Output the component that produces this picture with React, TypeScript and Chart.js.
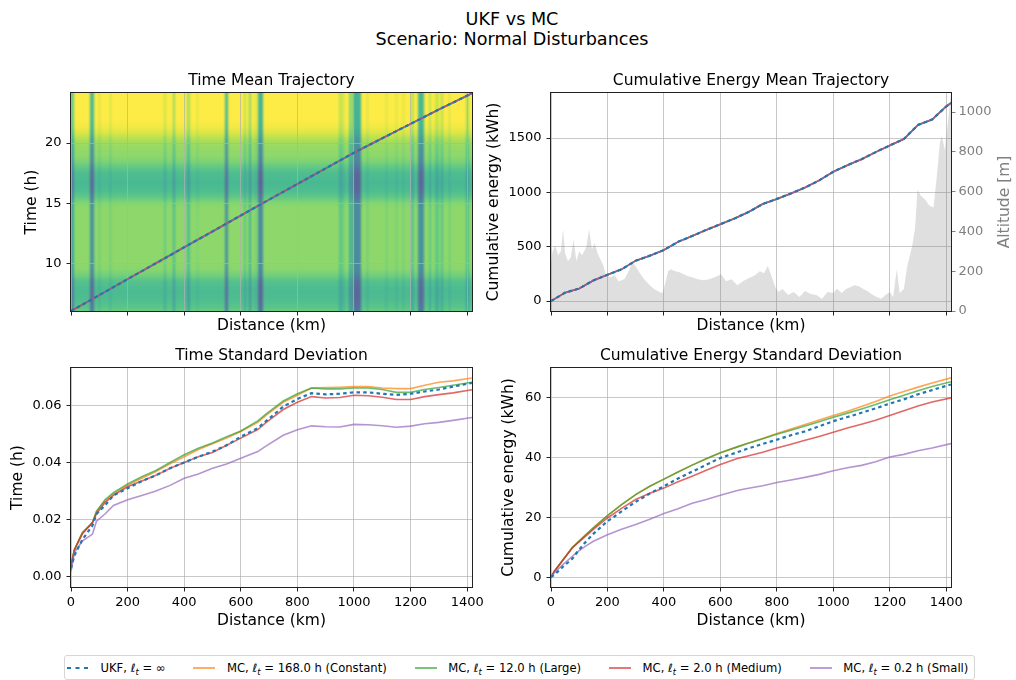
import React, { useEffect, useRef } from 'react';
import { Chart, registerables } from 'chart.js';

Chart.register(...registerables);

const FONT = "'DejaVu Sans', 'Liberation Sans', sans-serif";
Chart.defaults.font.family = FONT;

// ------------------------------------------------------------------ data
const X_MAX_KM = 1417;
const distanceTicks = [0, 200, 400, 600, 800, 1000, 1200, 1400];
const timeTicks = [10, 15, 20];
const energyTicks = [0, 500, 1000, 1500];
const altitudeTicks = [0, 200, 400, 600, 800, 1000];
const timeStdTicks = [0, 0.02, 0.04, 0.06];
const energyStdTicks = [0, 20, 40, 60];

// mean trajectories (top row)
const meanKm = [0, 100, 200, 300, 400, 500, 600, 700, 800, 900, 1000, 1100, 1200, 1300, 1417];
const timeMeanUKF = [6.03, 7.35, 8.68, 10.0, 11.33, 12.65, 13.98, 15.3, 16.6, 17.9, 19.2, 20.4, 21.6, 22.8, 24.15];
const timeMeanMC = [6.03, 7.35, 8.68, 10.0, 11.33, 12.65, 13.98, 15.3, 16.6, 17.9, 19.2, 20.4, 21.6, 22.8, 24.15];

const energyKm = [0, 50, 100, 150, 200, 250, 300, 350, 400, 450, 500, 550, 600, 650, 700, 750, 800, 850, 900, 950, 1000, 1050, 1100, 1150, 1200, 1250, 1300, 1350, 1400, 1417];
const energyMeanUKF = [0, 78, 116, 190, 242, 292, 372, 418, 470, 545, 598, 655, 707, 760, 820, 893, 940, 990, 1045, 1110, 1190, 1250, 1305, 1370, 1432, 1490, 1620, 1670, 1790, 1822];
const energyMeanMC = [0, 78, 116, 190, 242, 292, 372, 418, 470, 545, 598, 655, 707, 760, 820, 893, 940, 990, 1045, 1110, 1190, 1250, 1305, 1370, 1432, 1490, 1620, 1670, 1790, 1822];

const altitudeKm = [0, 5, 15, 25, 35, 43, 50, 60, 70, 80, 90, 100, 110, 125, 135, 145, 155, 165, 175, 185, 195, 210, 225, 240, 260, 275, 289, 300, 315, 330, 350, 365, 384, 395, 405, 415, 425, 440, 455, 470, 485, 500, 520, 540, 560, 580, 603, 620, 640, 660, 680, 700, 721, 740, 755, 768, 780, 795, 805, 820, 840, 860, 880, 900, 920, 940, 960, 980, 1000, 1013, 1030, 1045, 1060, 1075, 1090, 1105, 1120, 1140, 1154, 1170, 1185, 1200, 1212, 1225, 1235, 1250, 1262, 1270, 1280, 1290, 1298, 1310, 1325, 1340, 1355, 1367, 1378, 1385, 1395, 1402, 1410, 1417];
const altitudeM = [240, 295, 330, 280, 300, 410, 290, 250, 270, 360, 250, 300, 280, 320, 410, 310, 340, 290, 260, 230, 180, 170, 180, 150, 160, 200, 245, 225, 190, 160, 130, 110, 95, 90, 140, 200, 210, 200, 195, 185, 175, 170, 160, 155, 160, 170, 185, 150, 160, 130, 150, 165, 178, 200, 190, 228, 180, 120, 95, 110, 80, 95, 70, 100, 85, 80, 62, 95, 90, 112, 90, 110, 120, 130, 125, 112, 100, 80, 70, 62, 80, 95, 70, 210, 90, 110, 225, 270, 330, 420, 610, 580, 560, 530, 520, 680, 850, 880, 810, 900, 1000, 1100];

// standard deviations (bottom row)
const stdKm = [0, 12, 40, 76, 90, 120, 150, 200, 250, 300, 350, 400, 450, 500, 550, 600, 660, 690, 750, 800, 850, 900, 950, 1000, 1050, 1100, 1150, 1200, 1250, 1300, 1350, 1417];
const timeStdUKF = [0.003, 0.0075, 0.013, 0.018, 0.022, 0.025, 0.0285, 0.031, 0.0335, 0.0355, 0.038, 0.040, 0.042, 0.0438, 0.046, 0.049, 0.052, 0.0545, 0.0595, 0.0622, 0.0642, 0.0638, 0.064, 0.0645, 0.0645, 0.064, 0.0636, 0.064, 0.0648, 0.0655, 0.0665, 0.0678];
const timeStdMC168 = [0.004, 0.0095, 0.0155, 0.019, 0.023, 0.0265, 0.029, 0.032, 0.0345, 0.0368, 0.0395, 0.042, 0.0445, 0.0465, 0.0485, 0.0508, 0.054, 0.0565, 0.061, 0.0635, 0.066, 0.0662, 0.0663, 0.0665, 0.0665, 0.066, 0.0658, 0.0658, 0.067, 0.068, 0.0685, 0.0695];
const timeStdMC12 = [0.004, 0.0095, 0.0155, 0.019, 0.0228, 0.027, 0.0295, 0.0325, 0.035, 0.0372, 0.040, 0.0427, 0.045, 0.0468, 0.049, 0.051, 0.0545, 0.057, 0.0615, 0.064, 0.066, 0.0657, 0.0657, 0.066, 0.066, 0.0655, 0.0645, 0.0645, 0.0655, 0.0662, 0.067, 0.068];
const timeStdMC2 = [0.004, 0.0095, 0.015, 0.019, 0.022, 0.026, 0.0285, 0.0315, 0.0335, 0.0355, 0.038, 0.040, 0.042, 0.0435, 0.046, 0.0485, 0.0515, 0.054, 0.0585, 0.061, 0.063, 0.0625, 0.0627, 0.0635, 0.0633, 0.0628, 0.062, 0.062, 0.063, 0.0637, 0.0643, 0.0654];
const timeStdMC02 = [0.002, 0.0085, 0.0125, 0.015, 0.0195, 0.022, 0.025, 0.027, 0.0285, 0.030, 0.032, 0.0345, 0.036, 0.038, 0.0395, 0.0415, 0.0438, 0.0458, 0.0495, 0.0514, 0.0528, 0.0525, 0.0524, 0.0533, 0.0532, 0.0528, 0.0523, 0.0527, 0.0535, 0.054, 0.0547, 0.0557];

const energyStdUKF = [0, 0.8, 3.3, 6.2, 8.0, 11.5, 14.5, 18.7, 22.0, 25.2, 28.0, 30.4, 33.0, 35.3, 37.6, 39.9, 41.8, 42.8, 44.6, 46.0, 47.5, 48.8, 50.5, 52.2, 53.6, 55.0, 56.5, 58.1, 59.5, 61.2, 62.6, 64.5];
const energyStdMC168 = [0, 2.0, 5.5, 10.0, 11.2, 13.9, 16.5, 20.6, 24.3, 27.6, 30.4, 32.8, 35.2, 37.5, 39.6, 41.6, 43.6, 44.6, 46.4, 48.1, 49.6, 51.1, 52.6, 54.1, 55.5, 57.1, 58.8, 60.6, 62.1, 63.6, 65.0, 66.7];
const energyStdMC12 = [0, 2.0, 5.5, 10.0, 11.2, 13.9, 16.5, 20.6, 24.3, 27.6, 30.4, 32.8, 35.2, 37.5, 39.6, 41.6, 43.6, 44.6, 46.3, 47.8, 49.2, 50.6, 52.0, 53.5, 54.9, 56.3, 57.8, 59.4, 60.9, 62.4, 63.8, 65.4];
const energyStdMC2 = [0, 2.0, 5.4, 9.8, 11.0, 13.5, 16.0, 19.8, 23.0, 26.0, 28.1, 29.8, 31.9, 33.8, 35.8, 37.7, 39.7, 40.4, 41.8, 43.2, 44.5, 45.8, 47.1, 48.5, 49.9, 51.2, 52.5, 54.1, 55.7, 57.3, 58.6, 60.0];
const energyStdMC02 = [0, 1.5, 4.0, 7.0, 8.2, 10.2, 12.0, 14.2, 16.0, 17.6, 19.4, 21.3, 22.9, 24.7, 26.0, 27.4, 29.0, 29.6, 30.6, 31.7, 32.5, 33.4, 34.4, 35.6, 36.6, 37.4, 38.6, 40.2, 41.1, 42.3, 43.2, 44.7];

// background field of the time plot: time-of-day level and distance stripes
const heatTimes = [6.03, 6.3, 7.0, 7.8, 8.5, 9.0, 9.5, 10.0, 12.0, 14.5, 15.0, 15.5, 16.0, 16.7, 17.5, 18.0, 18.5, 19.0, 19.8, 20.3, 20.8, 21.3, 22.0, 24.17];
const heatRowLevel = [0.72, 0.68, 0.64, 0.63, 0.66, 0.74, 0.79, 0.8, 0.8, 0.8, 0.78, 0.7, 0.64, 0.62, 0.64, 0.7, 0.77, 0.8, 0.82, 0.86, 0.93, 0.98, 1.0, 1.0];
const stripeStartKm = [0, 67, 100, 137, 330, 360, 410, 445, 543, 612, 629, 650, 661, 947, 960, 982, 996, 1047, 1112, 1147, 1172, 1203, 1227, 1265, 1288, 1306, 1335, 1395];
const stripeEndKm = [10, 82, 104, 142, 334, 366, 420, 449, 555, 620, 637, 654, 678, 957, 966, 994, 1024, 1051, 1117, 1151, 1177, 1211, 1247, 1271, 1300, 1314, 1341, 1406];
const stripeDepth = [0.28, 0.38, 0.12, 0.12, 0.1, 0.18, 0.15, 0.08, 0.37, 0.12, 0.22, 0.1, 0.4, 0.12, 0.15, 0.22, 0.4, 0.12, 0.1, 0.1, 0.1, 0.12, 0.38, 0.12, 0.1, 0.14, 0.12, 0.15];

const seriesNames = ['UKF', 'MC', 'MC', 'MC', 'MC'];
const lengthScales = ['∞', '168.0 h (Constant)', '12.0 h (Large)', '2.0 h (Medium)', '0.2 h (Small)'];

// ------------------------------------------------------------------ styles
const SERIES_COLORS = ['#1f77b4', 'rgba(255,127,14,0.7)', 'rgba(44,160,44,0.7)', 'rgba(214,39,40,0.7)', 'rgba(148,103,189,0.7)'];
const SERIES_ORDER = [0, 4, 3, 2, 1];
const GRID = 'rgba(176,176,176,0.7)';
const SPINE = '#222';
const tickFont = { family: FONT, size: 13 };
const labelFont = { family: FONT, size: 15.5 };

const VIRIDIS = ['#440154', '#482475', '#414487', '#355f8d', '#2a788e', '#21918c', '#22a884', '#44bf70', '#7ad151', '#bddf26', '#fde725'];
function hexRgb(h: string) {
  return [parseInt(h.slice(1, 3), 16), parseInt(h.slice(3, 5), 16), parseInt(h.slice(5, 7), 16)];
}
function viridis(v: number, alpha: number) {
  const c = Math.max(0, Math.min(1, v)) * 10;
  const i = Math.min(9, Math.floor(c));
  const f = c - i;
  const a = hexRgb(VIRIDIS[i]);
  const b = hexRgb(VIRIDIS[i + 1]);
  const rgb = a.map((x, k) => x + (b[k] - x) * f).map((x) => Math.round(255 * (1 - alpha) + x * alpha));
  return `rgb(${rgb[0]},${rgb[1]},${rgb[2]})`;
}

// ------------------------------------------------------------------ plugins
const framePlugin = {
  id: 'frame',
  afterDraw(chart: any) {
    const { ctx, chartArea: a } = chart;
    ctx.save();
    ctx.strokeStyle = SPINE;
    ctx.lineWidth = 1;
    const l = Math.round(a.left) - 0.5;
    const t = Math.round(a.top) - 0.5;
    const r = Math.round(a.right) + 0.5;
    const b = Math.round(a.bottom) + 0.5;
    ctx.strokeRect(l, t, r - l, b - t);
    ctx.restore();
  },
};

const heatmapPlugin = {
  id: 'heatmap',
  beforeDraw(chart: any) {
    const { ctx, chartArea: a, scales } = chart;
    const xs = scales.x;
    const ys = scales.y;
    const M = 8;
    const left = Math.round(a.left);
    const top = Math.round(a.top);
    const w = Math.round(a.right) - left;
    const h = Math.round(a.bottom) - top;
    const off = document.createElement('canvas');
    off.width = w + 2 * M;
    off.height = h + 2 * M;
    const o = off.getContext('2d') as CanvasRenderingContext2D;
    o.translate(M - left, M - top);
    const edges = Array.from(new Set([0, X_MAX_KM, ...stripeStartKm, ...stripeEndKm])).sort((p, q) => p - q);
    const yTop = ys.getPixelForValue(heatTimes[heatTimes.length - 1]);
    const yBot = ys.getPixelForValue(heatTimes[0]);
    for (let k = 0; k < edges.length - 1; k++) {
      const e0 = edges[k];
      const e1 = edges[k + 1];
      const mid = (e0 + e1) / 2;
      let depth = 0;
      stripeStartKm.forEach((s, i) => {
        if (mid >= s && mid <= stripeEndKm[i]) depth = Math.max(depth, stripeDepth[i]);
      });
      let x0 = Math.round(xs.getPixelForValue(e0));
      let x1 = Math.round(xs.getPixelForValue(e1));
      if (k === 0) x0 -= M;
      if (k === edges.length - 2) x1 += M;
      if (x1 <= x0) continue;
      const g = o.createLinearGradient(0, yBot, 0, yTop);
      heatTimes.forEach((t, i) => {
        const offp = (yBot - ys.getPixelForValue(t)) / (yBot - yTop);
        g.addColorStop(Math.max(0, Math.min(1, offp)), viridis(heatRowLevel[i] - depth, 0.85));
      });
      o.fillStyle = g;
      o.fillRect(x0, top - M, x1 - x0, h + 2 * M);
    }
    ctx.save();
    ctx.beginPath();
    ctx.rect(a.left, a.top, a.right - a.left, a.bottom - a.top);
    ctx.clip();
    ctx.filter = 'blur(0.8px)';
    ctx.drawImage(off, left - M, top - M);
    ctx.restore();
  },
};

function rightLabelPlugin(text: string, xPx: number) {
  return {
    id: 'rightLabel',
    afterDraw(chart: any) {
      const { ctx, chartArea: a } = chart;
      ctx.save();
      ctx.translate(xPx, (a.top + a.bottom) / 2);
      ctx.rotate(-Math.PI / 2);
      ctx.textAlign = 'center';
      ctx.textBaseline = 'middle';
      ctx.font = `15.5px ${FONT}`;
      ctx.fillStyle = '#808080';
      ctx.fillText(text, 0, 0);
      ctx.restore();
    },
  };
}

// ------------------------------------------------------------------ builders
function seriesDatasets(xs: number[], ys: number[][]) {
  return ys.map((vals, i) => ({
    label: `${seriesNames[i]}, l_t = ${lengthScales[i]}`,
    data: xs.map((x, j) => ({ x, y: vals[j] })),
    borderColor: SERIES_COLORS[i],
    backgroundColor: SERIES_COLORS[i],
    borderWidth: i === 0 ? 2.2 : 1.6,
    borderDash: i === 0 ? [3.5, 3.2] : [],
    borderCapStyle: 'butt',
    pointRadius: 0,
    fill: false,
    tension: 0,
    order: SERIES_ORDER[i],
    yAxisID: 'y',
  }));
}

const fixedTicks = (values: number[]) => (s: any) => {
  s.ticks = values.map((v) => ({ value: v }));
};

type Geo = {
  title: string;
  titlePadTop: number;
  titlePadBottom: number;
  xHeight: number;
  xLabels: boolean;
  xTitlePad: number;
  yTitle: string;
  yTitlePad: number;
  yWidth: number;
  yMin: number;
  yMax: number;
  yTicks: number[];
  yFmt: (v: number) => string;
  padRight: number;
};

function buildOptions(g: Geo, extraScales: any = {}) {
  return {
    animation: false,
    responsive: true,
    maintainAspectRatio: false,
    events: [],
    layout: { padding: { left: 0, right: g.padRight, top: 0, bottom: 0 } },
    plugins: {
      legend: { display: false },
      tooltip: { enabled: false },
      title: {
        display: true,
        text: g.title,
        fullSize: false,
        color: '#000',
        font: { family: FONT, size: 15.5, weight: 'normal' },
        padding: { top: g.titlePadTop, bottom: g.titlePadBottom },
      },
    },
    scales: {
      x: {
        type: 'linear',
        position: 'bottom',
        min: 0,
        max: X_MAX_KM,
        afterBuildTicks: fixedTicks(distanceTicks),
        afterFit: (s: any) => {
          s.height = g.xHeight;
        },
        ticks: {
          display: g.xLabels,
          autoSkip: false,
          maxRotation: 0,
          font: tickFont,
          color: '#000',
          padding: 3,
          callback: (v: number) => String(v),
        },
        grid: { color: GRID, lineWidth: 1, drawTicks: true, tickLength: 4.5, tickColor: SPINE, tickWidth: 1 },
        border: { display: false },
        title: {
          display: true,
          text: 'Distance (km)',
          color: '#000',
          font: labelFont,
          padding: { top: 0, bottom: g.xTitlePad },
        },
      },
      y: {
        type: 'linear',
        position: 'left',
        min: g.yMin,
        max: g.yMax,
        afterBuildTicks: fixedTicks(g.yTicks),
        afterFit: (s: any) => {
          s.width = g.yWidth;
        },
        ticks: {
          autoSkip: false,
          font: tickFont,
          color: '#000',
          padding: 5,
          callback: (v: number) => g.yFmt(v),
        },
        grid: { color: GRID, lineWidth: 1, drawTicks: true, tickLength: 4.5, tickColor: SPINE, tickWidth: 1 },
        border: { display: false },
        title: {
          display: true,
          text: g.yTitle,
          color: '#000',
          font: labelFont,
          padding: { top: g.yTitlePad, bottom: 0 },
        },
      },
      ...extraScales,
    },
  };
}

const TOP = { titlePadTop: 11.5, titlePadBottom: 2.9, xHeight: 29, xLabels: false, xTitlePad: 4.7 };
const BOTTOM = { titlePadTop: 11.9, titlePadBottom: 2.5, xHeight: 58, xLabels: true, xTitlePad: 14.7 };
const RIGHT_CANVAS_LEFT = 480;

function timeMeanConfig() {
  return {
    type: 'line',
    data: {
      datasets: seriesDatasets(meanKm, [timeMeanUKF, timeMeanMC, timeMeanMC, timeMeanMC, timeMeanMC]),
    },
    options: buildOptions({
      ...TOP,
      title: 'Time Mean Trajectory',
      yTitle: 'Time (h)',
      yTitlePad: 22.7,
      yWidth: 71,
      yMin: heatTimes[0],
      yMax: heatTimes[heatTimes.length - 1],
      yTicks: timeTicks,
      yFmt: (v) => String(v),
      padRight: 18,
    }),
    plugins: [heatmapPlugin, framePlugin],
  };
}

function energyMeanConfig() {
  const sets: any[] = seriesDatasets(energyKm, [energyMeanUKF, energyMeanMC, energyMeanMC, energyMeanMC, energyMeanMC]);
  sets.push({
    label: 'Altitude',
    data: altitudeKm.map((x, j) => ({ x, y: altitudeM[j] })),
    borderColor: 'rgba(0,0,0,0)',
    borderWidth: 0,
    backgroundColor: 'rgba(128,128,128,0.25)',
    pointRadius: 0,
    fill: 'origin',
    tension: 0,
    order: 10,
    yAxisID: 'y2',
  });
  return {
    type: 'line',
    data: { datasets: sets },
    options: buildOptions(
      {
        ...TOP,
        title: 'Cumulative Energy Mean Trajectory',
        yTitle: 'Cumulative energy (kWh)',
        yTitlePad: 4.7,
        yWidth: 71,
        yMin: -91,
        yMax: 1914,
        yTicks: energyTicks,
        yFmt: (v) => String(v),
        padRight: 0,
      },
      {
        y2: {
          type: 'linear',
          position: 'right',
          min: 0,
          max: 1096,
          afterBuildTicks: fixedTicks(altitudeTicks),
          afterFit: (s: any) => {
            s.width = 65;
          },
          ticks: {
            autoSkip: false,
            font: tickFont,
            color: '#808080',
            padding: 3,
            callback: (v: number) => String(v),
          },
          grid: { drawOnChartArea: false, drawTicks: true, tickLength: 4.5, tickColor: '#808080', tickWidth: 1 },
          border: { display: false },
          title: { display: false },
        },
      }
    ),
    plugins: [framePlugin, rightLabelPlugin('Altitude [m]', 1005 - RIGHT_CANVAS_LEFT)],
  };
}

function timeStdConfig() {
  return {
    type: 'line',
    data: {
      datasets: seriesDatasets(stdKm, [timeStdUKF, timeStdMC168, timeStdMC12, timeStdMC2, timeStdMC02]),
    },
    options: buildOptions({
      ...BOTTOM,
      title: 'Time Standard Deviation',
      yTitle: 'Time (h)',
      yTitlePad: 8.2,
      yWidth: 71,
      yMin: -0.0035,
      yMax: 0.073,
      yTicks: timeStdTicks,
      yFmt: (v) => v.toFixed(2),
      padRight: 18,
    }),
    plugins: [framePlugin],
  };
}

function energyStdConfig() {
  return {
    type: 'line',
    data: {
      datasets: seriesDatasets(stdKm, [energyStdUKF, energyStdMC168, energyStdMC12, energyStdMC2, energyStdMC02]),
    },
    options: buildOptions({
      ...BOTTOM,
      title: 'Cumulative Energy Standard Deviation',
      yTitle: 'Cumulative energy (kWh)',
      yTitlePad: 19.7,
      yWidth: 71,
      yMin: -3.3,
      yMax: 70,
      yTicks: energyStdTicks,
      yFmt: (v) => String(v),
      padRight: 65,
    }),
    plugins: [framePlugin],
  };
}

// ------------------------------------------------------------------ components
function ChartBox(props: { left: number; top: number; width: number; height: number; make: () => any }) {
  const ref = useRef<HTMLCanvasElement>(null);
  useEffect(() => {
    const chart = new Chart(ref.current as HTMLCanvasElement, props.make());
    return () => chart.destroy();
  }, []);
  return (
    <div style={{ position: 'absolute', left: props.left, top: props.top, width: props.width, height: props.height }}>
      <canvas ref={ref} />
    </div>
  );
}

function Legend() {
  return (
    <div
      style={{
        position: 'absolute',
        left: 64,
        top: 655,
        height: 23,
        border: '1px solid #d6d6d6',
        borderRadius: 3,
        display: 'flex',
        alignItems: 'center',
        padding: '0 6px 0 2px',
        fontFamily: FONT,
        fontSize: 11.6,
        color: '#000',
        whiteSpace: 'nowrap',
        background: '#fff',
      }}
    >
      {seriesNames.map((name, i) => (
        <div key={i} style={{ display: 'flex', alignItems: 'center', marginRight: i < seriesNames.length - 1 ? 28 : 0 }}>
          <svg width={22} height={10} style={{ marginRight: 11.5, display: 'block' }}>
            <line
              x1={0}
              y1={5}
              x2={22}
              y2={5}
              stroke={SERIES_COLORS[i]}
              strokeWidth={i === 0 ? 2.2 : 1.8}
              strokeDasharray={i === 0 ? '4 4.5' : undefined}
            />
          </svg>
          <span>
            {name}, ℓ
            <sub style={{ fontSize: '0.72em', fontStyle: 'italic', verticalAlign: '-0.3em', lineHeight: 0 }}>t</sub>
            {' = '}
            {lengthScales[i]}
          </span>
        </div>
      ))}
    </div>
  );
}

export default function App() {
  return (
    <div
      style={{
        position: 'absolute',
        left: 0,
        top: 0,
        width: 1016,
        height: 680,
        overflow: 'hidden',
        background: '#fff',
        fontFamily: FONT,
      }}
    >
      <div
        style={{
          position: 'absolute',
          left: 0,
          top: 9,
          width: 1024,
          textAlign: 'center',
          fontSize: 17.6,
          lineHeight: '20px',
          color: '#000',
        }}
      >
        <div>UKF vs MC</div>
        <div>Scenario: Normal Disturbances</div>
      </div>
      <ChartBox left={0} top={60} width={490} height={280} make={timeMeanConfig} />
      <ChartBox left={RIGHT_CANVAS_LEFT} top={60} width={536} height={280} make={energyMeanConfig} />
      <ChartBox left={0} top={335} width={490} height={310} make={timeStdConfig} />
      <ChartBox left={RIGHT_CANVAS_LEFT} top={335} width={536} height={310} make={energyStdConfig} />
      <Legend />
    </div>
  );
}
